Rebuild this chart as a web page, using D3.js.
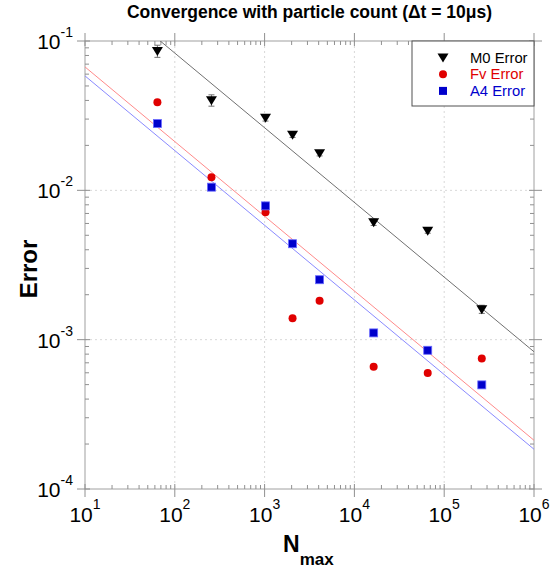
<!DOCTYPE html>
<html>
<head>
<meta charset="utf-8">
<script src="https://cdn.jsdelivr.net/npm/d3@7"></script>
<style>
  body { margin: 0; background: #fff; }
  svg text { font-family: Arial, "Liberation Sans", sans-serif; }
</style>
</head>
<body>
<div id="chart"></div>
<script>
// particle counts
var nMax = [64, 256, 1024, 2048, 4096, 16384, 65536, 262144];

// errors
var m0Error = [0.0857, 0.0401, 0.0306, 0.0236, 0.0177, 0.00612, 0.00536, 0.0016];
var m0ErrBar = [0.008, 0.0035, 0.0015, 0.001, 0.0007, 0.0003, 0.0002, 0.0001];
var fvError = [0.0389, 0.01225, 0.00714, 0.00139, 0.00182, 0.000659, 0.000598, 0.000747];
var a4Error = [0.028, 0.0105, 0.00787, 0.00439, 0.00252, 0.00111, 0.000849, 0.000498];

// N^-1/2 reference lines (coefficient for each series)
var fitCoef = [0.83, 0.212, 0.1846];
var fitSlope = -0.5;

var seriesNames = ["M0 Error", "Fv Error", "A4 Error"];
var seriesColors = ["#000000", "#e00000", "#0000cc"];
var fitColors = ["#707070", "#ff8a8a", "#8a8aff"];

var xTicks = [1e1, 1e2, 1e3, 1e4, 1e5, 1e6];
var xTickExp = ["1", "2", "3", "4", "5", "6"];
var yTicks = [1e-4, 1e-3, 1e-2, 1e-1];
var yTickExp = ["-4", "-3", "-2", "-1"];

var width = 552, height = 572;
var pLeft = 85, pRight = 534, pTop = 41, pBottom = 489;

var svg = d3.select("#chart").append("svg")
  .attr("width", width)
  .attr("height", height);

var x = d3.scaleLog().domain([10, 1e6]).range([pLeft, pRight]);
var y = d3.scaleLog().domain([1e-4, 1e-1]).range([pBottom, pTop]);

// minor tick values
var xMinor = [], yMinor = [];
for (var e = 1; e < 6; e++) for (var k = 2; k < 10; k++) xMinor.push(k * Math.pow(10, e));
for (var e2 = -4; e2 < -1; e2++) for (var k2 = 2; k2 < 10; k2++) yMinor.push(k2 * Math.pow(10, e2));

svg.append("defs").append("clipPath").attr("id", "clip")
  .append("rect").attr("x", pLeft).attr("y", pTop)
  .attr("width", pRight - pLeft).attr("height", pBottom - pTop);

// grid
var grid = svg.append("g");
grid.selectAll(".gx").data(xTicks.slice(1, -1)).enter().append("line")
  .attr("x1", d => x(d)).attr("x2", d => x(d))
  .attr("y1", pTop).attr("y2", pBottom)
  .attr("stroke", "#d8d8d8").attr("stroke-dasharray", "2,3");
grid.selectAll(".gy").data(yTicks.slice(1, -1)).enter().append("line")
  .attr("y1", d => y(d)).attr("y2", d => y(d))
  .attr("x1", pLeft).attr("x2", pRight)
  .attr("stroke", "#d8d8d8").attr("stroke-dasharray", "2,3");

// frame
svg.append("rect")
  .attr("x", pLeft).attr("y", pTop)
  .attr("width", pRight - pLeft).attr("height", pBottom - pTop)
  .attr("fill", "none").attr("stroke", "#a0a0a0");

var tk = svg.append("g").attr("stroke", "#909090");
// major ticks, crossing the frame on all sides
xTicks.forEach(function(d) {
  tk.append("line").attr("x1", x(d)).attr("x2", x(d)).attr("y1", pBottom - 5).attr("y2", pBottom + 8);
  tk.append("line").attr("x1", x(d)).attr("x2", x(d)).attr("y1", pTop - 8).attr("y2", pTop + 5);
});
yTicks.forEach(function(d) {
  tk.append("line").attr("y1", y(d)).attr("y2", y(d)).attr("x1", pLeft - 8).attr("x2", pLeft + 5);
  tk.append("line").attr("y1", y(d)).attr("y2", y(d)).attr("x1", pRight - 5).attr("x2", pRight + 8);
});
// minor ticks inside
xMinor.forEach(function(d) {
  tk.append("line").attr("x1", x(d)).attr("x2", x(d)).attr("y1", pBottom - 4).attr("y2", pBottom);
  tk.append("line").attr("x1", x(d)).attr("x2", x(d)).attr("y1", pTop).attr("y2", pTop + 4);
});
yMinor.forEach(function(d) {
  tk.append("line").attr("y1", y(d)).attr("y2", y(d)).attr("x1", pLeft).attr("x2", pLeft + 4);
  tk.append("line").attr("y1", y(d)).attr("y2", y(d)).attr("x1", pRight - 4).attr("x2", pRight);
});

// tick labels
xTicks.forEach(function(d, i) {
  var t = svg.append("text")
    .attr("x", x(d)).attr("y", pBottom + 33)
    .attr("text-anchor", "middle")
    .attr("font-size", 21).attr("fill", "#000");
  t.append("tspan").text("10");
  t.append("tspan").attr("dy", -13).attr("font-size", 14).text(xTickExp[i]);
});
yTicks.forEach(function(d, i) {
  var t = svg.append("text")
    .attr("x", pLeft - 12).attr("y", y(d) + 8)
    .attr("text-anchor", "end")
    .attr("font-size", 21).attr("fill", "#000");
  t.append("tspan").text("10");
  t.append("tspan").attr("dy", -12).attr("font-size", 14).text(yTickExp[i]);
});

// fit lines
var fits = svg.append("g").attr("clip-path", "url(#clip)");
fitCoef.forEach(function(c, i) {
  var pts = x.domain().map(n => [n, c * Math.pow(n, fitSlope)]);
  fits.append("path")
    .attr("d", d3.line().x(p => x(p[0])).y(p => y(p[1]))(pts))
    .attr("fill", "none")
    .attr("stroke", fitColors[i])
    .attr("stroke-width", 1);
});

// error bars on M0
var eb = svg.append("g").attr("stroke", "#707070");
nMax.forEach(function(n, i) {
  var y1 = y(m0Error[i] + m0ErrBar[i]), y2 = y(m0Error[i] - m0ErrBar[i]);
  eb.append("line").attr("x1", x(n)).attr("x2", x(n)).attr("y1", y1).attr("y2", y2);
  eb.append("line").attr("x1", x(n) - 3).attr("x2", x(n) + 3).attr("y1", y1).attr("y2", y1);
  eb.append("line").attr("x1", x(n) - 3).attr("x2", x(n) + 3).attr("y1", y2).attr("y2", y2);
});

var triDown = "M-5.5,-4L5.5,-4L0,5Z";

// markers
svg.append("g").selectAll("path").data(nMax).enter().append("path")
  .attr("d", triDown)
  .attr("transform", (d, i) => "translate(" + x(d) + "," + y(m0Error[i]) + ")")
  .attr("fill", seriesColors[0]);

svg.append("g").selectAll("circle").data(nMax).enter().append("circle")
  .attr("cx", d => x(d))
  .attr("cy", (d, i) => y(fvError[i]))
  .attr("r", 4)
  .attr("fill", seriesColors[1]);

svg.append("g").selectAll("rect").data(nMax).enter().append("rect")
  .attr("x", d => x(d) - 4)
  .attr("y", (d, i) => y(a4Error[i]) - 4)
  .attr("width", 8).attr("height", 8)
  .attr("fill", seriesColors[2])
  .attr("stroke", "#6a6aff").attr("stroke-width", 0.8);

// legend
var lg = svg.append("g");
lg.append("rect")
  .attr("x", 412).attr("y", pTop)
  .attr("width", pRight - 412).attr("height", 65)
  .attr("fill", "#fff").attr("stroke", "#505050");
seriesNames.forEach(function(name, i) {
  var cy = 57.5 + i * 16.7;
  if (i === 0) {
    lg.append("path").attr("d", triDown).attr("transform", "translate(443," + cy + ")").attr("fill", seriesColors[0]);
  } else if (i === 1) {
    lg.append("circle").attr("cx", 443).attr("cy", cy).attr("r", 4).attr("fill", seriesColors[1]);
  } else {
    lg.append("rect").attr("x", 439).attr("y", cy - 4).attr("width", 8).attr("height", 8).attr("fill", seriesColors[2]);
  }
  lg.append("text")
    .attr("x", 470).attr("y", cy + 5)
    .attr("font-size", 14.8)
    .attr("fill", seriesColors[i])
    .text(name);
});

// title and axis labels
svg.append("text")
  .attr("x", (pLeft + pRight) / 2).attr("y", 18)
  .attr("text-anchor", "middle")
  .attr("font-size", 17.5).attr("font-weight", "bold")
  .text("Convergence with particle count (\u0394t = 10\u03bcs)");

svg.append("text")
  .attr("transform", "translate(37,269) rotate(-90)")
  .attr("text-anchor", "middle")
  .attr("font-size", 24).attr("font-weight", "bold")
  .text("Error");

var xl = svg.append("text")
  .attr("x", 283).attr("y", 552)
  .attr("font-size", 23).attr("font-weight", "bold");
xl.append("tspan").text("N");
xl.append("tspan").attr("dy", 13).attr("font-size", 17).text("max");
</script>
</body>
</html>
